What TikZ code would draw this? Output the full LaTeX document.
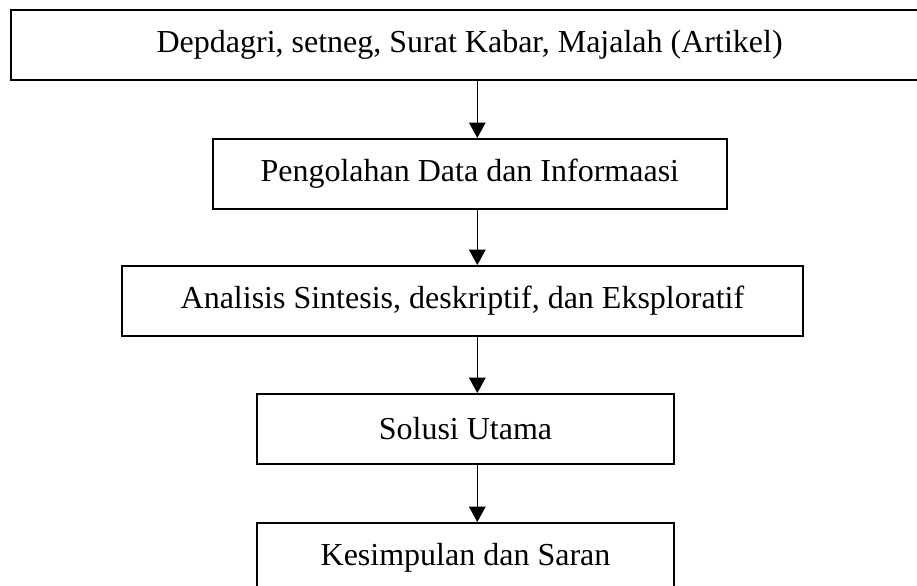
\documentclass[tikz,border=0pt]{standalone}
\usepackage{fontspec}
\setmainfont{Liberation Serif}
\usepackage{tikz}
\usetikzlibrary{arrows.meta}

\begin{document}
\begin{tikzpicture}[
    x=0.375pt, y=-0.375pt,
    blok/.style={draw, line width=0.75pt, minimum height=26.2pt, inner sep=0pt, font=\fontsize{12}{14}\selectfont},
    panah/.style={line width=0.55pt, -{Triangle[width=6.2pt,length=5.8pt]}}
    ]
    \useasboundingbox (0,0) rectangle (917,585);
    \clip (0,0) rectangle (917,585);
    \node[blok, minimum width=344pt] (sumber) at (469.6,45.3) {Depdagri, setneg, Surat Kabar, Majalah (Artikel)};
    \node[blok, minimum width=192.9pt] (olah) at (469.8,173.9) {Pengolahan Data dan Informaasi};
    \node[blok, minimum width=255.4pt] (analisis) at (462.4,301) {Analisis Sintesis, deskriptif, dan Eksploratif};
    \node[blok, minimum width=156.4pt] (solusi) at (465.5,429) {Solusi Utama};
    \node[blok, minimum width=156.4pt] (simpul) at (465.5,558) {Kesimpulan dan Saran};
    \coordinate (ax) at (477.3,0);
    \draw[panah] (sumber.south -| ax) -- (olah.north -| ax);
    \draw[panah] (olah.south -| ax) -- (analisis.north -| ax);
    \draw[panah] (analisis.south -| ax) -- (solusi.north -| ax);
    \draw[panah] (solusi.south -| ax) -- (simpul.north -| ax);
  \end{tikzpicture}
\end{document}
